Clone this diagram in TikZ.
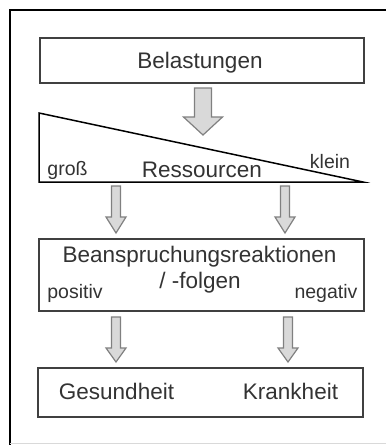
\documentclass[tikz,border=0pt]{standalone}
\usepackage{fontspec}
\setmainfont{Liberation Sans}
\begin{document}
\begin{tikzpicture}[x=1pt,y=-1pt,
  txt/.style={font=\fontsize{22.5}{27}\selectfont, text=black!80, inner sep=0pt, anchor=base},
  small/.style={font=\fontsize{19.5}{23}\selectfont, text=black!80, inner sep=0pt, anchor=base},
  box/.style={draw=black!75, line width=1.8pt, inner sep=0pt, rectangle},
  flow/.style={draw=black!50, fill=black!15, line width=1.2pt, line join=miter},
  pics/blockarrow/.style n args={4}{code={
    \draw[flow] (-#1,0) -- (#1,0) -- (#1,#3) -- (#2,#3) -- (0,#4)
      -- (-#2,#3) -- (-#1,#3) -- cycle;}}]
\useasboundingbox (0,0) rectangle (386,445);
\clip (0,0) rectangle (386,445);
\fill[white] (0,0) rectangle (386,445);

% outer frame
\draw[black, line width=2.5pt] (10,460) -- (10,10) -- (400,10);
\draw[black!15, line width=1pt] (10,443) -- (386,443);

% top box
\node[box, minimum width=324pt, minimum height=45pt] (bel) at (202,60.5) {};
\node[txt] (beltext) at (200,68) {Belastungen};

\pic at (203,88) {blockarrow={8.5}{19.5}{29}{47}};

% resources wedge
\coordinate (wa) at (39,113);
\coordinate (wb) at (39,182);
\coordinate (wc) at (363,182);
\draw[black, line width=1.5pt, line join=miter] (wa) -- (wb) -- (wc) -- cycle;
\node[small] (gross) at (67.5,175) {groß};
\node[txt] (res) at (202,177) {Ressourcen};
\node[small] (klein) at (330,168) {klein};

\pic at (116,186) {blockarrow={4.5}{10}{31}{47}};
\pic at (285,186) {blockarrow={4.5}{10}{31}{47}};

% strain box
\node[box, minimum width=325pt, minimum height=72pt] (bea) at (201.5,275) {};
\node[txt] (beal1) at (199.5,262) {Beanspruchungsreaktionen};
\node[txt] (beal2) at (200,288) {/ -folgen};
\node[small] (pos) at (75,298.5) {positiv};
\node[small] (neg) at (326,298.5) {negativ};

\pic at (116,317) {blockarrow={4.5}{10}{31}{45}};
\pic at (288,317) {blockarrow={4.5}{10}{31}{45}};

% outcome box
\node[box, minimum width=325pt, minimum height=49pt] (out) at (200.5,392.5) {};
\node[txt] (ges) at (116.5,399) {Gesundheit};
\node[txt] (kra) at (290.5,399) {Krankheit};
\end{tikzpicture}
\end{document}
